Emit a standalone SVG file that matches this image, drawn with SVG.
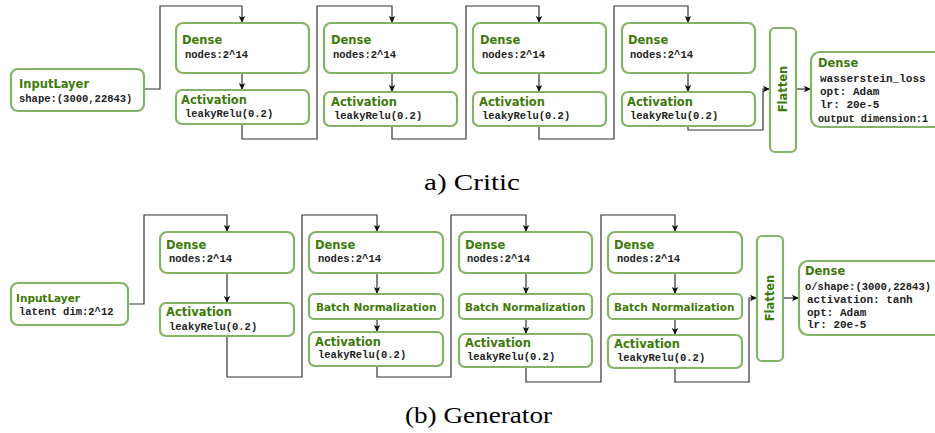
<svg xmlns="http://www.w3.org/2000/svg" width="935" height="433" viewBox="0 0 935 433">
<style>
.box{fill:#fff;stroke:#82b366;stroke-width:2.2}
.t{font-family:"DejaVu Sans",Verdana,sans-serif;font-weight:bold;font-size:11.5px;fill:#3d7a0a}
.ts{font-family:"DejaVu Sans",Verdana,sans-serif;font-weight:bold;font-size:10.5px;fill:#3d7a0a}
.b{font-family:"Liberation Mono","Courier New",monospace;font-weight:bold;font-size:10.5px;fill:#222}
.bl{font-family:"Liberation Mono","Courier New",monospace;font-weight:bold;font-size:11px;fill:#222}
.cap{font-family:"Liberation Serif","Times New Roman",serif;font-size:23px;fill:#000}
.c{fill:none;stroke:#333;stroke-width:1.2;marker-end:url(#arr)}
</style>
<defs>
<marker id="arr" markerUnits="userSpaceOnUse" markerWidth="8" markerHeight="8" viewBox="0 0 8 8" refX="7" refY="4" orient="auto">
<path d="M0,0.8 L7,4 L0,7.2 L1.5,4 Z" fill="#111"/>
</marker>
</defs>
<rect width="935" height="433" fill="#fff"/>

<g id="connectors">
<path class="c" d="M144,89 H160 V6 H242 V23"/>
<path class="c" d="M242,73 V90"/>
<path class="c" d="M242,124 V139 H317 V6 H392 V23"/>
<path class="c" d="M392,73 V92"/>
<path class="c" d="M392,126 V139 H466 V6 H539 V23"/>
<path class="c" d="M539,73 V92"/>
<path class="c" d="M539,126 V139 H614 V6 H688 V23"/>
<path class="c" d="M688,73 V92"/>
<path class="c" d="M688,126 V130 H763 V89 H770"/>
<path class="c" d="M796,89 H811"/>

<path class="c" d="M128,304 H144 V215 H227 V232"/>
<path class="c" d="M227,273 V303"/>
<path class="c" d="M227,336 V377 H302 V215 H377 V232"/>
<path class="c" d="M377,273 V294"/>
<path class="c" d="M377,319 V332"/>
<path class="c" d="M377,366 V377 H451 V215 H526 V232"/>
<path class="c" d="M526,273 V294"/>
<path class="c" d="M526,319 V334"/>
<path class="c" d="M526,367 V382 H601 V215 H675 V232"/>
<path class="c" d="M675,273 V294"/>
<path class="c" d="M675,319 V335"/>
<path class="c" d="M675,368 V382 H749 V298 H757"/>
<path class="c" d="M783,298 H799"/>
</g>

<!-- Critic -->
<g id="c_input"><rect class="box" x="11" y="69" width="133" height="42" rx="7"/>
<text class="t" x="19" y="88">InputLayer</text><text class="b" x="19" y="102">shape:(3000,22843)</text></g>
<g id="c_dense1"><rect class="box" x="176" y="23" width="133" height="50" rx="7"/>
<text class="t" x="182" y="44">Dense</text><text class="b" x="185" y="58">nodes:2^14</text></g>
<g id="c_act1"><rect class="box" x="176" y="90" width="133" height="34" rx="6"/>
<text class="t" x="181" y="104">Activation</text><text class="b" x="185" y="117">leakyRelu(0.2)</text></g>
<g id="c_dense2"><rect class="box" x="324" y="23" width="133" height="50" rx="7"/>
<text class="t" x="331" y="44">Dense</text><text class="b" x="333" y="58">nodes:2^14</text></g>
<g id="c_act2"><rect class="box" x="324" y="92" width="133" height="34" rx="6"/>
<text class="t" x="331" y="106">Activation</text><text class="b" x="334" y="119">leakyRelu(0.2)</text></g>
<g id="c_dense3"><rect class="box" x="473" y="23" width="133" height="50" rx="7"/>
<text class="t" x="480" y="44">Dense</text><text class="b" x="482" y="58">nodes:2^14</text></g>
<g id="c_act3"><rect class="box" x="473" y="92" width="133" height="34" rx="6"/>
<text class="t" x="479" y="106">Activation</text><text class="b" x="482" y="119">leakyRelu(0.2)</text></g>
<g id="c_dense4"><rect class="box" x="622" y="23" width="133" height="50" rx="7"/>
<text class="t" x="628" y="44">Dense</text><text class="b" x="630" y="58">nodes:2^14</text></g>
<g id="c_act4"><rect class="box" x="622" y="92" width="133" height="34" rx="6"/>
<text class="t" x="627" y="106">Activation</text><text class="b" x="630" y="119">leakyRelu(0.2)</text></g>
<g id="c_flatten"><rect class="box" x="770" y="28" width="26" height="124" rx="5"/>
<text class="t" transform="translate(787,89) rotate(-90)" text-anchor="middle">Flatten</text></g>
<g id="c_out"><rect class="box" x="811" y="52" width="140" height="75" rx="9"/>
<text class="t" x="818" y="67">Dense</text>
<text class="bl" x="820" y="82">wasserstein_loss</text>
<text class="bl" x="820" y="95">opt: Adam</text>
<text class="bl" x="820" y="108">lr: 20e-5</text>
<text class="bl" x="818" y="122" textLength="110" lengthAdjust="spacingAndGlyphs">output dimension:1</text></g>
<text class="cap" x="424" y="190" textLength="96" lengthAdjust="spacingAndGlyphs">a) Critic</text>

<!-- Generator -->
<g id="g_input"><rect class="box" x="11" y="283" width="117" height="42" rx="7"/>
<text class="ts" x="16" y="302">InputLayer</text><text class="b" x="19" y="315">latent dim:2^12</text></g>
<g id="g_dense1"><rect class="box" x="160" y="232" width="134" height="41" rx="7"/>
<text class="t" x="166" y="249">Dense</text><text class="b" x="169" y="262">nodes:2^14</text></g>
<g id="g_act1"><rect class="box" x="160" y="303" width="134" height="33" rx="6"/>
<text class="t" x="166" y="316">Activation</text><text class="b" x="169" y="330">leakyRelu(0.2)</text></g>

<g id="g_dense2"><rect class="box" x="309" y="232" width="134" height="41" rx="7"/>
<text class="t" x="315" y="249">Dense</text><text class="b" x="318" y="262">nodes:2^14</text></g>
<g id="g_bn2"><rect class="box" x="309" y="294" width="134" height="25" rx="5"/>
<text class="ts" x="316" y="311">Batch Normalization</text></g>
<g id="g_act2"><rect class="box" x="309" y="332" width="134" height="34" rx="6"/>
<text class="t" x="315" y="346">Activation</text><text class="b" x="318" y="358">leakyRelu(0.2)</text></g>

<g id="g_dense3"><rect class="box" x="459" y="232" width="133" height="41" rx="7"/>
<text class="t" x="465" y="249">Dense</text><text class="b" x="467" y="262">nodes:2^14</text></g>
<g id="g_bn3"><rect class="box" x="459" y="294" width="133" height="25" rx="5"/>
<text class="ts" x="465" y="311">Batch Normalization</text></g>
<g id="g_act3"><rect class="box" x="459" y="334" width="133" height="33" rx="6"/>
<text class="t" x="465" y="347">Activation</text><text class="b" x="467" y="360">leakyRelu(0.2)</text></g>

<g id="g_dense4"><rect class="box" x="608" y="232" width="134" height="41" rx="7"/>
<text class="t" x="614" y="249">Dense</text><text class="b" x="617" y="262">nodes:2^14</text></g>
<g id="g_bn4"><rect class="box" x="608" y="294" width="134" height="25" rx="5"/>
<text class="ts" x="614" y="311">Batch Normalization</text></g>
<g id="g_act4"><rect class="box" x="608" y="335" width="134" height="33" rx="6"/>
<text class="t" x="614" y="348">Activation</text><text class="b" x="617" y="361">leakyRelu(0.2)</text></g>

<g id="g_flatten"><rect class="box" x="757" y="236" width="26" height="125" rx="5"/>
<text class="t" transform="translate(774,298) rotate(-90)" text-anchor="middle">Flatten</text></g>
<g id="g_out"><rect class="box" x="799" y="261" width="150" height="74" rx="9"/>
<text class="t" x="805" y="275">Dense</text>
<text class="b" x="805" y="290">o/shape:(3000,22843)</text>
<text class="bl" x="807" y="303">activation: tanh</text>
<text class="bl" x="807" y="316">opt: Adam</text>
<text class="bl" x="807" y="328">lr: 20e-5</text></g>
<text class="cap" x="405" y="423" textLength="147" lengthAdjust="spacingAndGlyphs">(b) Generator</text>
</svg>
